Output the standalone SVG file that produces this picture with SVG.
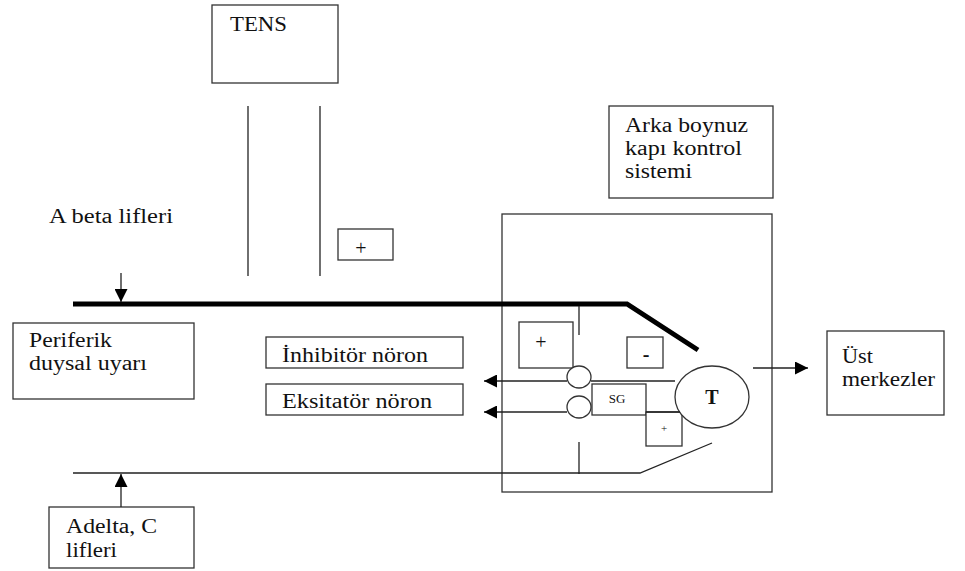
<svg xmlns="http://www.w3.org/2000/svg" width="965" height="571" viewBox="0 0 965 571">
<defs>
<style>
.box{fill:#fff;stroke:#333;stroke-width:1.3}
.ln{fill:none;stroke:#222;stroke-width:1.3}
.thick{fill:none;stroke:#000;stroke-width:5}
.t{font-family:'Liberation Serif','DejaVu Serif','Times New Roman',serif;font-size:20px;fill:#111}
.sm{font-family:'Liberation Serif','DejaVu Serif','Times New Roman',serif;fill:#111}
</style>
<marker id="ah" viewBox="0 0 10 10" refX="10" refY="5" markerWidth="15" markerHeight="13" markerUnits="userSpaceOnUse" orient="auto">
<path d="M0,0 L10,5 L0,10 Z" fill="#000"/>
</marker>
</defs>
<rect width="965" height="571" fill="#fff"/>

<g id="tens">
<rect class="box" x="212" y="5" width="126" height="78"/>
<text class="t" x="230" y="31" textLength="57" lengthAdjust="spacingAndGlyphs">TENS</text>
</g>
<g id="abeta">
<text class="t" x="49" y="223" textLength="124" lengthAdjust="spacingAndGlyphs">A beta lifleri</text>
</g>
<g id="arka">
<rect class="box" x="609" y="106" width="164" height="92"/>
<text class="t" x="625" y="132" textLength="123" lengthAdjust="spacingAndGlyphs">Arka boynuz</text>
<text class="t" x="625" y="155" textLength="117" lengthAdjust="spacingAndGlyphs">kapı kontrol</text>
<text class="t" x="625" y="178" textLength="67" lengthAdjust="spacingAndGlyphs">sistemi</text>
</g>
<g id="plus-top">
<rect class="box" x="338" y="229" width="55" height="31"/>
<text class="sm" x="361" y="255" font-size="20" text-anchor="middle">+</text>
</g>
<g id="dorsal">
<rect class="box" x="502" y="214" width="270" height="278"/>
</g>
<g id="periferik">
<rect class="box" x="13" y="323" width="181" height="76"/>
<text class="t" x="29" y="347" textLength="83" lengthAdjust="spacingAndGlyphs">Periferik</text>
<text class="t" x="29" y="370" textLength="118" lengthAdjust="spacingAndGlyphs">duysal uyarı</text>
</g>
<g id="inhibitor">
<rect class="box" x="266" y="337" width="197" height="31"/>
<text class="t" x="282" y="362" textLength="146" lengthAdjust="spacingAndGlyphs">İnhibitör nöron</text>
</g>
<g id="eksitator">
<rect class="box" x="266" y="384" width="197" height="31"/>
<text class="t" x="282" y="408" textLength="150" lengthAdjust="spacingAndGlyphs">Eksitatör nöron</text>
</g>
<g id="ust">
<rect class="box" x="827" y="331" width="117" height="84"/>
<text class="t" x="842" y="363" textLength="31" lengthAdjust="spacingAndGlyphs">Üst</text>
<text class="t" x="842" y="386" textLength="93" lengthAdjust="spacingAndGlyphs">merkezler</text>
</g>
<g id="adelta">
<rect class="box" x="49" y="507" width="145" height="61"/>
<text class="t" x="66" y="533" textLength="91" lengthAdjust="spacingAndGlyphs">Adelta, C</text>
<text class="t" x="66" y="557" textLength="51" lengthAdjust="spacingAndGlyphs">lifleri</text>
</g>
<g id="plus-box">
<rect class="box" x="519" y="322" width="54" height="46"/>
<text class="sm" x="541" y="349" font-size="20" text-anchor="middle">+</text>
</g>
<g id="minus-box">
<rect class="box" x="627" y="337" width="36" height="31"/>
<text class="sm" x="646" y="361" font-size="20" font-weight="bold" text-anchor="middle">-</text>
</g>
<g id="sg">
<rect class="box" x="592" y="384" width="54" height="31"/>
<text class="sm" x="617" y="403" font-size="13" text-anchor="middle">SG</text>
</g>
<g id="plus-small">
<rect class="box" x="646" y="412" width="36" height="34"/>
<text class="sm" x="664" y="432" font-size="11" text-anchor="middle">+</text>
</g>
<g id="circle-inh">
<ellipse class="box" cx="579" cy="377" rx="12" ry="11"/>
</g>
<g id="circle-eks">
<ellipse class="box" cx="579" cy="407" rx="12" ry="11"/>
</g>
<g id="t-cell">
<ellipse class="box" cx="712" cy="397" rx="37" ry="31"/>
<text class="sm" x="712" y="404" font-size="20" font-weight="bold" text-anchor="middle">T</text>
</g>

<g id="connectors">
<path class="thick" d="M73,304 L627,304 L698,350"/>
<line class="ln" x1="248" y1="106" x2="248" y2="276"/>
<line class="ln" x1="320" y1="106" x2="320" y2="276"/>
<line class="ln" x1="121" y1="273" x2="121" y2="302" marker-end="url(#ah)"/>
<line class="ln" x1="579" y1="306" x2="579" y2="335"/>
<line class="ln" x1="579" y1="442" x2="579" y2="474"/>
<line class="ln" x1="567" y1="381" x2="484" y2="381" marker-end="url(#ah)"/>
<line class="ln" x1="591" y1="381" x2="675" y2="381"/>
<line class="ln" x1="567" y1="412" x2="484" y2="412" marker-end="url(#ah)"/>
<line class="ln" x1="646" y1="412" x2="680" y2="412"/>
<path class="ln" d="M73,473 L640,473 L712,443"/>
<line class="ln" x1="121" y1="507" x2="121" y2="474" marker-end="url(#ah)"/>
<line class="ln" x1="753" y1="368" x2="808" y2="368" marker-end="url(#ah)"/>
</g>
</svg>
